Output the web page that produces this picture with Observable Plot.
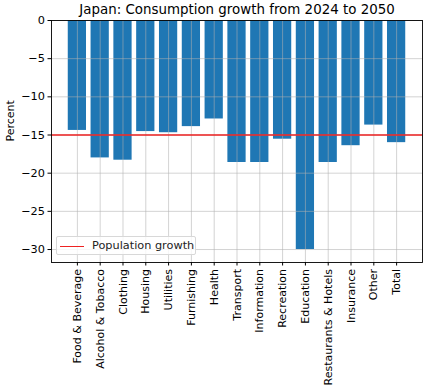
<!DOCTYPE html>
<html><head><meta charset="utf-8">
<script src="https://cdn.jsdelivr.net/npm/d3@7"></script>
<script src="https://cdn.jsdelivr.net/npm/@observablehq/plot@0.6"></script>
<style>
body{margin:0;background:#fff;font-family:"DejaVu Sans",sans-serif;}
#wrap{position:relative;width:426px;height:389px;}
#legend{position:absolute;left:56px;top:236px;width:140px;height:19px;box-sizing:border-box;border:1px solid #d8d8d8;border-radius:2px;background:rgba(255,255,255,0.8);font-size:11.3px;color:#222;}
#legend .sw{position:absolute;left:3px;top:8.5px;width:24px;height:0;border-top:1.5px solid #ee2222;}
#legend .lb{position:absolute;left:35px;top:1px;line-height:16px;white-space:nowrap;}
</style>
</head><body><div id="wrap"></div>
<script>
const categories = ["Food & Beverage","Alcohol & Tobacco","Clothing","Housing","Utilities","Furnishing","Health","Transport","Information","Recreation","Education","Restaurants & Hotels","Insurance","Other","Total"];
const values = [-14.4,-18.0,-18.3,-14.55,-14.7,-13.9,-12.9,-18.6,-18.6,-15.55,-30.0,-18.6,-16.4,-13.7,-16.0];
const populationGrowth = -15;
const yTicks = [0,-5,-10,-15,-20,-25,-30];
const titleText = "Japan: Consumption growth from 2024 to 2050";
const yLabel = "Percent";
const legendLabel = "Population growth";

const data = categories.map((c,i)=>({category:c, value:values[i]}));
const fmt = d => d < 0 ? "\u2212" + (-d) : String(d);

const chart = Plot.plot({
  width:426, height:389,
  marginTop:20, marginLeft:51, marginRight:4, marginBottom:127,
  style:{fontFamily:"DejaVu Sans", fontSize:"10.5px", color:"#000", background:"#fff", overflow:"visible"},
  x:{type:"band", domain:categories, paddingInner:0.2, paddingOuter:0.735, round:false, label:null},
  y:{domain:[-31.7,0], label:null},
  marks:[
    Plot.barY(data, {x:"category", y:"value", fill:"#1f77b4"}),
    Plot.ruleX(categories, {x:d=>d, stroke:"#b0b0b0", strokeWidth:0.8, strokeOpacity:0.7}),
    Plot.ruleY(yTicks, {y:d=>d, stroke:"#b0b0b0", strokeWidth:0.8, strokeOpacity:0.7}),
    Plot.ruleY([populationGrowth], {y:d=>d, stroke:"#ee2222", strokeWidth:1.5}),
    Plot.frame({stroke:"#000", strokeWidth:0.9}),
    Plot.axisY({ticks:yTicks, tickFormat:fmt, tickSize:3.5, tickPadding:3, label:null, fontSize:11.3}),
    Plot.axisX({tickRotate:-90, tickSize:3.5, tickPadding:3, label:null, fontSize:11}),
    Plot.text([yLabel], {frameAnchor:"left", dx:-41, rotate:-90, fontSize:11, fill:"#000"}),
    Plot.text([titleText], {frameAnchor:"top", dy:-11, lineAnchor:"middle", fontSize:13.4, fill:"#000"})
  ]
});
const wrap = document.getElementById("wrap");
wrap.appendChild(chart);
const lg = document.createElement("div");
lg.id = "legend";
lg.innerHTML = '<div class="sw"></div><div class="lb"></div>';
lg.querySelector(".lb").textContent = legendLabel;
wrap.appendChild(lg);
</script>
</body></html>
